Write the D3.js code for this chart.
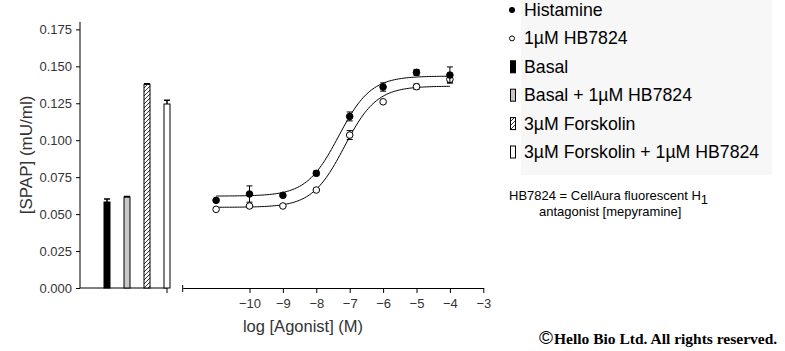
<!DOCTYPE html>
<html>
<head>
<meta charset="utf-8">
<script src="https://cdn.jsdelivr.net/npm/d3@7"></script>
<style>
  body { margin: 0; background: #fff; }
  text { font-family: "Liberation Sans", Arial, sans-serif; }
</style>
</head>
<body>
<div id="chart"></div>
<script>
// bar part (controls)
var barLabels = ["Basal", "Basal + 1µM HB7824", "3µM Forskolin", "3µM Forskolin + 1µM HB7824"];
var barValues = [0.0582, 0.0615, 0.1378, 0.1245];
var barErrors = [0.0020, 0.0004, 0.0004, 0.0025];

// concentration response
var logConc = [-11, -10, -9, -8, -7, -6, -5, -4];
var histamine = [0.0593, 0.0636, 0.0627, 0.0776, 0.1161, 0.1360, 0.1459, 0.1441];
var histamineErr = [0.0010, 0.0055, 0.0010, 0.0016, 0.0030, 0.0028, 0.0020, 0.0055];
var hb7824 = [0.0532, 0.0555, 0.0555, 0.0663, 0.1035, 0.1260, 0.1362, 0.1412];
var hb7824Err = [0.0004, 0.0010, 0.0005, 0.0005, 0.0030, 0.0006, 0.0018, 0.0020];

// fitted sigmoid parameters: bottom, top, logEC50, hill
var histamineFit = [0.0622, 0.1434, -7.33, 0.9];
var hb7824Fit = [0.0546, 0.1366, -7.16, 0.9];

var yTicks = [0, 0.025, 0.05, 0.075, 0.1, 0.125, 0.15, 0.175];
var xTicks = [-10, -9, -8, -7, -6, -5, -4, -3];

var width = 785, height = 351;

var svg = d3.select("#chart")
  .append("svg")
  .attr("width", width)
  .attr("height", height);

var y = d3.scaleLinear().domain([0, 0.18]).range([288, 22]);
var xBar = d3.scalePoint().domain(barLabels).range([107, 167]);
var x = d3.scaleLinear().domain([-12, -3]).range([182.7, 483.3]);

// hatch pattern
var defs = svg.append("defs");
var pat = defs.append("pattern")
  .attr("id", "hatch")
  .attr("patternUnits", "userSpaceOnUse")
  .attr("width", 4).attr("height", 4);
pat.append("rect").attr("width", 4).attr("height", 4).attr("fill", "#fff");
pat.append("path").attr("d", "M-1,1 l2,-2 M0,4 l4,-4 M3,5 l2,-2")
  .attr("stroke", "#000").attr("stroke-width", 0.8);

var barFills = ["#000", "#c8c8c8", "url(#hatch)", "#fff"];

// Y axis
var yAxis = svg.append("g")
  .attr("transform", "translate(80,0)")
  .call(d3.axisLeft(y).tickValues(yTicks).tickFormat(d3.format(".3f")).tickSize(4).tickSizeOuter(0));
yAxis.select(".domain").attr("d", "M0," + y(0.18) + "V" + y(0));
yAxis.selectAll("text").style("font-size", "13px").attr("fill", "#333").attr("dx", "-1");

svg.append("text")
  .attr("transform", "translate(26," + (y(0.18) + y(0)) / 2 + ") rotate(-90)")
  .attr("text-anchor", "middle")
  .attr("dy", "0.35em")
  .style("font-size", "17px")
  .attr("fill", "#333")
  .text("[SPAP] (mU/ml)");

// bar baseline axis
svg.append("line")
  .attr("x1", 80).attr("x2", xBar(barLabels[3]))
  .attr("y1", y(0)).attr("y2", y(0))
  .attr("stroke", "#000");
svg.append("line")
  .attr("x1", xBar(barLabels[3])).attr("x2", xBar(barLabels[3]))
  .attr("y1", y(0)).attr("y2", y(0) + 5)
  .attr("stroke", "#000");

// bars
svg.selectAll(".bar")
  .data(barLabels)
  .enter()
  .append("rect")
  .attr("x", function(d) { return xBar(d) - 3; })
  .attr("y", function(d, i) { return y(barValues[i]); })
  .attr("width", 6)
  .attr("height", function(d, i) { return y(0) - y(barValues[i]); })
  .attr("fill", function(d, i) { return barFills[i]; })
  .attr("stroke", "#000")
  .attr("stroke-width", 1);

svg.selectAll(".barerr")
  .data(barLabels)
  .enter()
  .append("path")
  .attr("d", function(d, i) {
    var cx = xBar(d), top = y(barValues[i] + barErrors[i]);
    return "M" + (cx - 3) + "," + top + "H" + (cx + 3) + "M" + cx + "," + top + "V" + y(barValues[i]);
  })
  .attr("stroke", "#000")
  .attr("stroke-width", 1.5)
  .attr("fill", "none");

// X axis (log conc)
var xAxis = svg.append("g")
  .attr("transform", "translate(0," + y(0) + ")")
  .call(d3.axisBottom(x).tickValues(xTicks).tickFormat(d3.format("d")).tickSize(5).tickSizeOuter(0));
xAxis.selectAll("text").style("font-size", "13px").attr("fill", "#333").attr("dy", "0.9em");
xAxis.append("line")
  .attr("x1", x(-12)).attr("x2", x(-12))
  .attr("y1", -3).attr("y2", 4)
  .attr("stroke", "#000");

svg.append("text")
  .attr("x", 303)
  .attr("y", 332)
  .attr("text-anchor", "middle")
  .style("font-size", "16.5px")
  .attr("fill", "#333")
  .text("log [Agonist] (M)");

// fitted curves
function sigmoid(p, lx) {
  return p[0] + (p[1] - p[0]) / (1 + Math.pow(10, (p[2] - lx) * p[3]));
}
var curveX = d3.range(-11, -3.99, 0.05);
var line = d3.line()
  .x(function(d) { return x(d[0]); })
  .y(function(d) { return y(d[1]); });

[histamineFit, hb7824Fit].forEach(function(p) {
  svg.append("path")
    .attr("d", line(curveX.map(function(lx) { return [lx, sigmoid(p, lx)]; })))
    .attr("fill", "none")
    .attr("stroke", "#000")
    .attr("stroke-width", 1);
});

// error bars and points
function drawSeries(vals, errs, filled) {
  svg.selectAll(null)
    .data(logConc)
    .enter()
    .append("path")
    .attr("d", function(d, i) {
      var cx = x(d), t = y(vals[i] + errs[i]), b = y(vals[i] - errs[i]);
      return "M" + (cx - 3) + "," + t + "H" + (cx + 3) + "M" + cx + "," + t + "V" + b +
        "M" + (cx - 3) + "," + b + "H" + (cx + 3);
    })
    .attr("stroke", "#000")
    .attr("fill", "none");
  svg.selectAll(null)
    .data(logConc)
    .enter()
    .append("circle")
    .attr("cx", function(d) { return x(d); })
    .attr("cy", function(d, i) { return y(vals[i]); })
    .attr("r", 3.3)
    .attr("fill", filled ? "#000" : "#fff")
    .attr("stroke", "#000")
    .attr("stroke-width", 1);
}
drawSeries(hb7824, hb7824Err, false);
drawSeries(histamine, histamineErr, true);

// legend
var legendNames = ["Histamine", "1µM HB7824"].concat(barLabels);
var leg = svg.append("g");
leg.append("rect")
  .attr("x", 521).attr("y", 0)
  .attr("width", 251).attr("height", 175)
  .attr("fill", "#f7f7f7");

var baseY = function(i) { return 16 + i * 28.4; };
leg.selectAll(".lt")
  .data(legendNames)
  .enter()
  .append("text")
  .attr("x", 524)
  .attr("y", function(d, i) { return baseY(i); })
  .style("font-size", "17.7px")
  .attr("fill", "#000")
  .text(function(d) { return d; });

leg.append("circle").attr("cx", 512).attr("cy", baseY(0) - 6).attr("r", 3).attr("fill", "#000");
leg.append("circle").attr("cx", 512).attr("cy", baseY(1) - 6).attr("r", 2.5)
  .attr("fill", "#fff").attr("stroke", "#000");
barFills.forEach(function(f, i) {
  leg.append("rect")
    .attr("x", 510.5).attr("y", baseY(i + 2) - 12)
    .attr("width", 5).attr("height", 12)
    .attr("fill", f)
    .attr("stroke", "#000")
    .attr("stroke-width", 1);
});

// note
var note = svg.append("text")
  .attr("x", 509).attr("y", 200)
  .style("font-size", "13px")
  .attr("fill", "#000");
note.append("tspan").text("HB7824 = CellAura fluorescent H");
note.append("tspan").attr("dy", 4).text("1");
svg.append("text")
  .attr("x", 539).attr("y", 216)
  .style("font-size", "13px")
  .attr("fill", "#000")
  .text("antagonist [mepyramine]");

// copyright
var copy = svg.append("text")
  .attr("x", 539).attr("y", 344)
  .attr("fill", "#000");
copy.append("tspan")
  .style("font-family", "'Liberation Sans', sans-serif")
  .style("font-size", "19px")
  .text("©");
copy.append("tspan")
  .attr("dx", 1)
  .style("font-family", "'Liberation Serif', 'Times New Roman', serif")
  .style("font-weight", "bold")
  .style("font-size", "15.5px")
  .text("Hello Bio Ltd. All rights reserved.");
</script>
</body>
</html>
